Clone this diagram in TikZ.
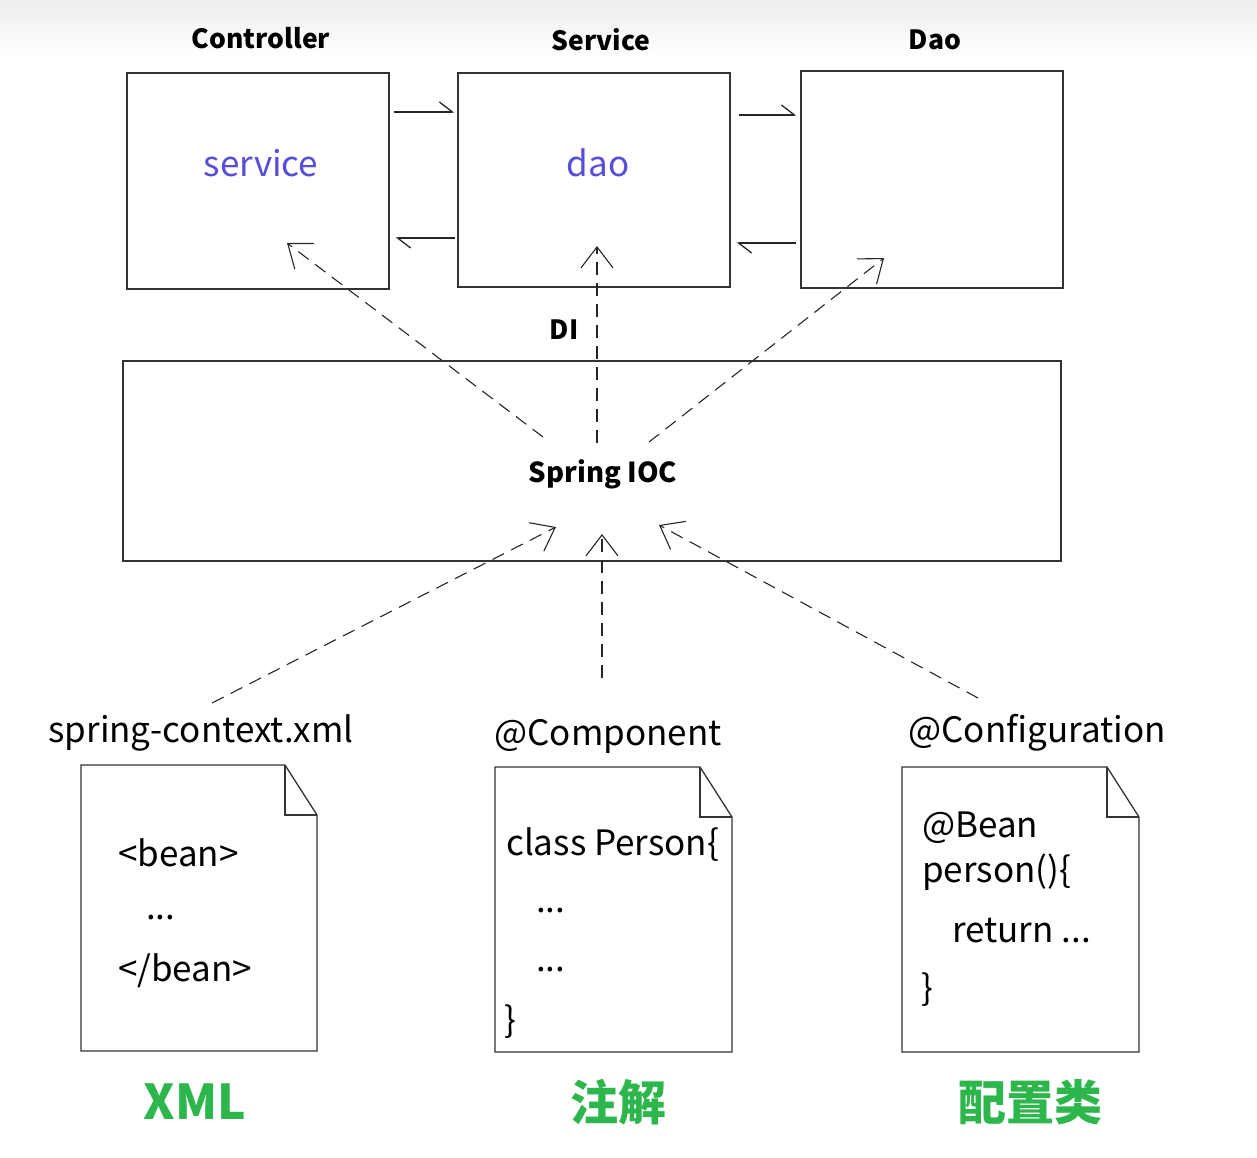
\documentclass[tikz,border=0pt]{standalone}
\usepackage{fontspec}
\setmainfont{Noto Sans CJK SC}
\usepackage{tikz}
\usetikzlibrary{arrows.meta}
\definecolor{beanblue}{RGB}{88,76,218}
\definecolor{kindgreen}{RGB}{45,182,76}
\providecommand{\fsz}[1]{\fontsize{#1}{#1}\selectfont}
% page with a folded corner: left, top, right, bottom
\providecommand{\docsheet}[4]{%
  \draw[sheet] (#1,#2) -- ({#3-32},#2) -- (#3,{#2+50}) -- (#3,#4) -- (#1,#4) -- cycle;
  \draw[sheet] ({#3-32},#2) -- ({#3-32},{#2+50}) -- (#3,{#2+50});
}

\begin{document}
\begin{tikzpicture}[x=1pt,y=-1pt,
  layer/.style={draw=black!80,line width=1.4pt,inner sep=0pt},
  title/.style={font=\fsz{26.5}\bfseries},
  field/.style={font=\fsz{35},text=beanblue},
  source/.style={font=\fsz{35}},
  code/.style={anchor=west,inner sep=0pt,font=\fsz{35}},
  kind/.style={font=\fsz{48}\bfseries,text=kindgreen},
  sheet/.style={draw=black!80,line width=1.3pt},
  flow/.style={draw=black!85,line width=1.3pt,-{Straight Barb[harpoon,length=13pt,width=20pt]}},
  inject/.style={draw=black!85,line width=1.1pt,dash pattern=on 13pt off 8pt,-{Straight Barb[length=21pt,width=32pt]}}]
\useasboundingbox (0,0) rectangle (1257,1157);
\shade[top color=black!7,bottom color=white] (0,0) rectangle (1257,55);
% Drawing layers
\node[layer,minimum width=262pt,minimum height=216pt] (ctrl) at (258,181) {};
\node[layer,minimum width=272pt,minimum height=214pt] (svc) at (594,180) {};
\node[layer,minimum width=262pt,minimum height=217pt] (dao) at (932,179.5) {};
\node[layer,minimum width=938pt,minimum height=200pt] (ioc) at (592,461) {};
\node[title] (ctrltitle) at (261,38) {Controller};
\node[title] (svctitle) at (601,40) {Service};
\node[title] (daotitle) at (935,40) {Dao};
\node[field] (ctrlfield) at (261,163) {service};
\node[field] (svcfield) at (598,163) {dao};
\node[title,font=\fsz{27.5}\bfseries] (ioclabel) at (603,474) {Spring IOC};
\node[title] (dilabel) at (564,330) {DI};
% calls between layers
\draw[flow,shorten <=4pt,shorten >=3pt] (ctrl.east |- 0,112) -- (svc.west |- 0,112);
\draw[flow,shorten <=2pt,shorten >=6pt] (svc.west |- 0,238) -- (ctrl.east |- 0,238);
\draw[flow,shorten <=8pt,shorten >=4pt] (svc.east |- 0,115) -- (dao.west |- 0,115);
\draw[flow,shorten <=4pt,shorten >=6pt] (dao.west |- 0,243) -- (svc.east |- 0,243);
% DI out of the container
\coordinate (diC) at (287,243);
\coordinate (diS) at (597,246);
\coordinate (diD) at (884,258);
\coordinate (iocC) at (543,437);
\coordinate (iocS) at (597,443);
\coordinate (iocD) at (649,442);
\draw[inject] (iocC) -- (diC);
\draw[inject] (iocS) -- (diS);
\draw[inject] (iocD) -- (diD);
% bean definitions into the container
\coordinate (srcX) at (212,703);
\coordinate (srcA) at (602,678);
\coordinate (srcB) at (978,698);
\coordinate (inX) at (556,527);
\coordinate (inA) at (602,534);
\coordinate (inB) at (659,525);
\draw[inject] (srcX) -- (inX);
\draw[inject] (srcA) -- (inA);
\draw[inject] (srcB) -- (inB);
% sources
\node[source] (xmlfile) at (201,733) {spring-context.xml};
\node[source] (compfile) at (608,736) {@Component};
\node[source] (conffile) at (1037,733) {@Configuration};
\docsheet{81}{765}{317}{1051}
\docsheet{495}{767}{732}{1052}
\docsheet{902}{767}{1139}{1052}
\node[code] (xml1) at (118,853) {<bean>};
\node[code] (xml2) at (146,918) {...};
\node[code] (xml3) at (118,971) {</bean>};
\node[code] (comp1) at (506,845) {class Person\{};
\node[code] (comp2) at (536,911) {...};
\node[code] (comp3) at (536,970) {...};
\node[code] (comp4) at (504,1022) {\}};
\node[code] (conf1) at (922,828) {@Bean};
\node[code] (conf2) at (922,872) {person()\{};
\node[code] (conf3) at (952,931) {return ...};
\node[code] (conf4) at (921,990) {\}};
% kinds
\node[kind] (xmlkind) at (195,1102) {XML};
\node[kind] (annkind) at (618,1102) {注解};
\node[kind] (cfgkind) at (1030,1102) {配置类};
\end{tikzpicture}
\end{document}
